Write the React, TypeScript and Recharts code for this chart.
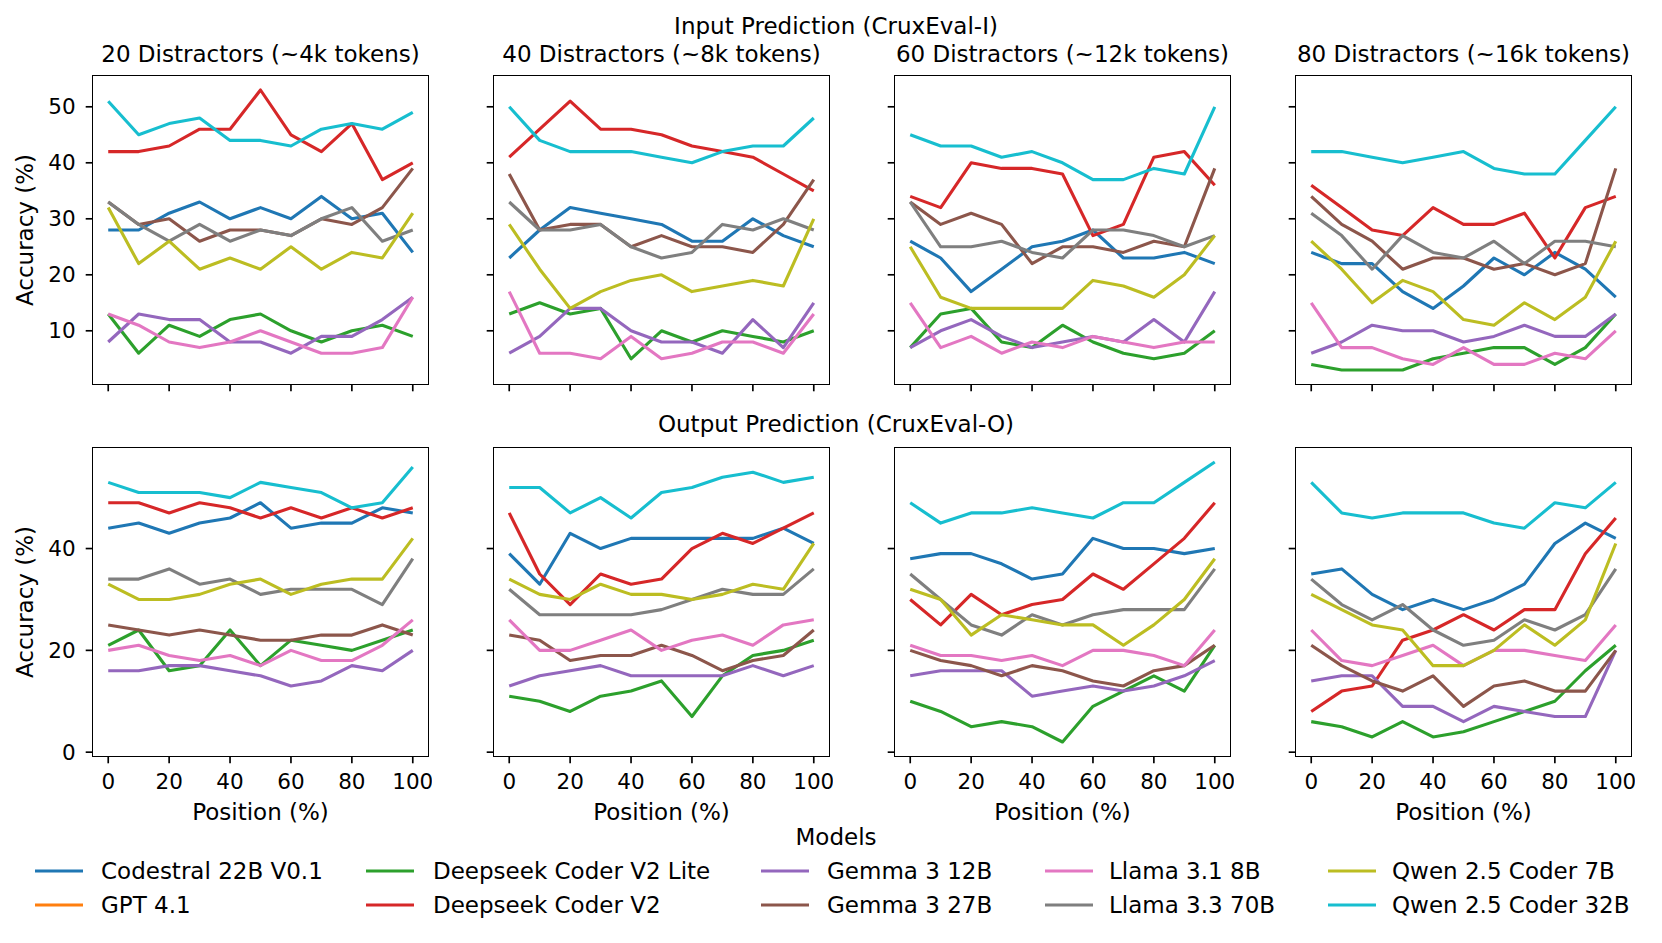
import React from 'react';
import { Line, LineChart, XAxis, YAxis } from 'recharts';

type ModelKey =
  | 'codestral'
  | 'gpt41'
  | 'dsLite'
  | 'dsV2'
  | 'gemma12'
  | 'gemma27'
  | 'llama8'
  | 'llama70'
  | 'qwen7'
  | 'qwen32';

type PanelData = Partial<Record<ModelKey, number[]>>;

const POSITIONS = [0, 10, 20, 30, 40, 50, 60, 70, 80, 90, 100];
const X_TICKS = [0, 20, 40, 60, 80, 100];
const INPUT_Y_TICKS = [10, 20, 30, 40, 50];
const OUTPUT_Y_TICKS = [0, 20, 40];

const MODELS: { key: ModelKey; name: string; color: string }[] = [
  { key: 'codestral', name: 'Codestral 22B V0.1', color: '#1f77b4' },
  { key: 'gpt41', name: 'GPT 4.1', color: '#ff7f0e' },
  { key: 'dsLite', name: 'Deepseek Coder V2 Lite', color: '#2ca02c' },
  { key: 'dsV2', name: 'Deepseek Coder V2', color: '#d62728' },
  { key: 'gemma12', name: 'Gemma 3 12B', color: '#9467bd' },
  { key: 'gemma27', name: 'Gemma 3 27B', color: '#8c564b' },
  { key: 'llama8', name: 'Llama 3.1 8B', color: '#e377c2' },
  { key: 'llama70', name: 'Llama 3.3 70B', color: '#7f7f7f' },
  { key: 'qwen7', name: 'Qwen 2.5 Coder 7B', color: '#bcbd22' },
  { key: 'qwen32', name: 'Qwen 2.5 Coder 32B', color: '#17becf' },
];

const PANEL_TITLES = [
  '20 Distractors (~4k tokens)',
  '40 Distractors (~8k tokens)',
  '60 Distractors (~12k tokens)',
  '80 Distractors (~16k tokens)',
];

// Input prediction (CruxEval-I)
const INPUT_20: PanelData = {
  codestral: [28, 28, 31, 33, 30, 32, 30, 34, 30, 31, 24],
  dsLite: [13, 6, 11, 9, 12, 13, 10, 8, 10, 11, 9],
  dsV2: [42, 42, 43, 46, 46, 53, 45, 42, 47, 37, 40],
  gemma12: [8, 13, 12, 12, 8, 8, 6, 9, 9, 12, 16],
  gemma27: [33, 29, 30, 26, 28, 28, 27, 30, 29, 32, 39],
  llama8: [13, 11, 8, 7, 8, 10, 8, 6, 6, 7, 16],
  llama70: [33, 29, 26, 29, 26, 28, 27, 30, 32, 26, 28],
  qwen7: [32, 22, 26, 21, 23, 21, 25, 21, 24, 23, 31],
  qwen32: [51, 45, 47, 48, 44, 44, 43, 46, 47, 46, 49],
};

const INPUT_40: PanelData = {
  codestral: [23, 28, 32, 31, 30, 29, 26, 26, 30, 27, 25],
  dsLite: [13, 15, 13, 14, 5, 10, 8, 10, 9, 8, 10],
  dsV2: [41, 46, 51, 46, 46, 45, 43, 42, 41, 38, 35],
  gemma12: [6, 9, 14, 14, 10, 8, 8, 6, 12, 7, 15],
  gemma27: [38, 28, 29, 29, 25, 27, 25, 25, 24, 29, 37],
  llama8: [17, 6, 6, 5, 9, 5, 6, 8, 8, 6, 13],
  llama70: [33, 28, 28, 29, 25, 23, 24, 29, 28, 30, 28],
  qwen7: [29, 21, 14, 17, 19, 20, 17, 18, 19, 18, 30],
  qwen32: [50, 44, 42, 42, 42, 41, 40, 42, 43, 43, 48],
};

const INPUT_60: PanelData = {
  codestral: [26, 23, 17, 21, 25, 26, 28, 23, 23, 24, 22],
  dsLite: [7, 13, 14, 8, 7, 11, 8, 6, 5, 6, 10],
  dsV2: [34, 32, 40, 39, 39, 38, 27, 29, 41, 42, 36],
  gemma12: [7, 10, 12, 9, 7, 8, 9, 8, 12, 8, 17],
  gemma27: [33, 29, 31, 29, 22, 25, 25, 24, 26, 25, 39],
  llama8: [15, 7, 9, 6, 8, 7, 9, 8, 7, 8, 8],
  llama70: [33, 25, 25, 26, 24, 23, 28, 28, 27, 25, 27],
  qwen7: [25, 16, 14, 14, 14, 14, 19, 18, 16, 20, 27],
  qwen32: [45, 43, 43, 41, 42, 40, 37, 37, 39, 38, 50],
};

const INPUT_80: PanelData = {
  codestral: [24, 22, 22, 17, 14, 18, 23, 20, 24, 21, 16],
  dsLite: [4, 3, 3, 3, 5, 6, 7, 7, 4, 7, 13],
  dsV2: [36, 32, 28, 27, 32, 29, 29, 31, 23, 32, 34],
  gemma12: [6, 8, 11, 10, 10, 8, 9, 11, 9, 9, 13],
  gemma27: [34, 29, 26, 21, 23, 23, 21, 22, 20, 22, 39],
  llama8: [15, 7, 7, 5, 4, 7, 4, 4, 6, 5, 10],
  llama70: [31, 27, 21, 27, 24, 23, 26, 22, 26, 26, 25],
  qwen7: [26, 21, 15, 19, 17, 12, 11, 15, 12, 16, 26],
  qwen32: [42, 42, 41, 40, 41, 42, 39, 38, 38, 44, 50],
};

// Output prediction (CruxEval-O)
const OUTPUT_20: PanelData = {
  codestral: [44, 45, 43, 45, 46, 49, 44, 45, 45, 48, 47],
  dsLite: [21, 24, 16, 17, 24, 17, 22, 21, 20, 22, 24],
  dsV2: [49, 49, 47, 49, 48, 46, 48, 46, 48, 46, 48],
  gemma12: [16, 16, 17, 17, 16, 15, 13, 14, 17, 16, 20],
  gemma27: [25, 24, 23, 24, 23, 22, 22, 23, 23, 25, 23],
  llama8: [20, 21, 19, 18, 19, 17, 20, 18, 18, 21, 26],
  llama70: [34, 34, 36, 33, 34, 31, 32, 32, 32, 29, 38],
  qwen7: [33, 30, 30, 31, 33, 34, 31, 33, 34, 34, 42],
  qwen32: [53, 51, 51, 51, 50, 53, 52, 51, 48, 49, 56],
};

const OUTPUT_40: PanelData = {
  codestral: [39, 33, 43, 40, 42, 42, 42, 42, 42, 44, 41],
  dsLite: [11, 10, 8, 11, 12, 14, 7, 15, 19, 20, 22],
  dsV2: [47, 35, 29, 35, 33, 34, 40, 43, 41, 44, 47],
  gemma12: [13, 15, 16, 17, 15, 15, 15, 15, 17, 15, 17],
  gemma27: [23, 22, 18, 19, 19, 21, 19, 16, 18, 19, 24],
  llama8: [26, 20, 20, 22, 24, 20, 22, 23, 21, 25, 26],
  llama70: [32, 27, 27, 27, 27, 28, 30, 32, 31, 31, 36],
  qwen7: [34, 31, 30, 33, 31, 31, 30, 31, 33, 32, 41],
  qwen32: [52, 52, 47, 50, 46, 51, 52, 54, 55, 53, 54],
};

const OUTPUT_60: PanelData = {
  codestral: [38, 39, 39, 37, 34, 35, 42, 40, 40, 39, 40],
  dsLite: [10, 8, 5, 6, 5, 2, 9, 12, 15, 12, 21],
  dsV2: [30, 25, 31, 27, 29, 30, 35, 32, 37, 42, 49],
  gemma12: [15, 16, 16, 16, 11, 12, 13, 12, 13, 15, 18],
  gemma27: [20, 18, 17, 15, 17, 16, 14, 13, 16, 17, 21],
  llama8: [21, 19, 19, 18, 19, 17, 20, 20, 19, 17, 24],
  llama70: [35, 30, 25, 23, 27, 25, 27, 28, 28, 28, 36],
  qwen7: [32, 30, 23, 27, 26, 25, 25, 21, 25, 30, 38],
  qwen32: [49, 45, 47, 47, 48, 47, 46, 49, 49, 53, 57],
};

const OUTPUT_80: PanelData = {
  codestral: [35, 36, 31, 28, 30, 28, 30, 33, 41, 45, 42],
  dsLite: [6, 5, 3, 6, 3, 4, 6, 8, 10, 16, 21],
  dsV2: [8, 12, 13, 22, 24, 27, 24, 28, 28, 39, 46],
  gemma12: [14, 15, 15, 9, 9, 6, 9, 8, 7, 7, 20],
  gemma27: [21, 17, 14, 12, 15, 9, 13, 14, 12, 12, 20],
  llama8: [24, 18, 17, 19, 21, 17, 20, 20, 19, 18, 25],
  llama70: [34, 29, 26, 29, 24, 21, 22, 26, 24, 27, 36],
  qwen7: [31, 28, 25, 24, 17, 17, 20, 25, 21, 26, 41],
  qwen32: [53, 47, 46, 47, 47, 47, 45, 44, 49, 48, 53],
};

const INPUT_PANELS = [INPUT_20, INPUT_40, INPUT_60, INPUT_80];
const OUTPUT_PANELS = [OUTPUT_20, OUTPUT_40, OUTPUT_60, OUTPUT_80];

// layout (pixels, page coordinates)
const FONT = "'DejaVu Sans', sans-serif";
const PANEL_LEFTS = [93, 494, 895, 1296];
const PANEL_W = 335;
const PANEL_H = 308;
const TOP_ROW_Y = 76;
const BOTTOM_ROW_Y = 448;
const Y_AXIS_W = 80;
const X_AXIS_H = 44;
const LINE_W = 3.1;
const SPINE_W = 1.67;

const LEGEND_COLS = [
  { line: 35, text: 101 },
  { line: 366, text: 433 },
  { line: 761, text: 827 },
  { line: 1045, text: 1109 },
  { line: 1328, text: 1392 },
];

function buildRows(panel: PanelData) {
  return POSITIONS.map((pos, i) => {
    const row: Record<string, number> = { pos };
    MODELS.forEach((m) => {
      const values = panel[m.key];
      if (values) row[m.key] = values[i];
    });
    return row;
  });
}

type PanelProps = {
  left: number;
  top: number;
  panel: PanelData;
  yDomain: [number, number];
  yTicks: number[];
  showYLabels: boolean;
  showXLabels: boolean;
};

function Panel({ left, top, panel, yDomain, yTicks, showYLabels, showXLabels }: PanelProps) {
  const rows = buildRows(panel);
  const tickStyle = { fontSize: 21.5, fill: '#000', fontFamily: FONT };
  const tickLine = { stroke: '#000', strokeWidth: SPINE_W };

  return (
    <>
      <div style={{ position: 'absolute', left: left - Y_AXIS_W, top }}>
        <LineChart
          width={Y_AXIS_W + PANEL_W + 4}
          height={PANEL_H + X_AXIS_H}
          data={rows}
          margin={{ top: 0, right: 4, bottom: 0, left: 0 }}
        >
          <XAxis
            dataKey="pos"
            type="number"
            domain={[-5, 105]}
            ticks={X_TICKS}
            allowDataOverflow
            axisLine={false}
            tickLine={tickLine}
            tickSize={7.3}
            tickMargin={10}
            height={X_AXIS_H}
            tick={tickStyle}
            tickFormatter={(v) => (showXLabels ? String(v) : '')}
          />
          <YAxis
            type="number"
            domain={yDomain}
            ticks={yTicks}
            allowDataOverflow
            axisLine={false}
            tickLine={tickLine}
            tickSize={7.3}
            tickMargin={10}
            width={Y_AXIS_W}
            tick={tickStyle}
            tickFormatter={(v) => (showYLabels ? String(v) : '')}
          />
          {MODELS.filter((m) => panel[m.key]).map((m) => (
            <Line
              key={m.key}
              dataKey={m.key}
              type="linear"
              stroke={m.color}
              strokeWidth={LINE_W}
              strokeLinejoin="round"
              dot={false}
              activeDot={false}
              isAnimationActive={false}
            />
          ))}
        </LineChart>
      </div>
      <div
        style={{
          position: 'absolute',
          left: left - SPINE_W / 2,
          top: top - SPINE_W / 2,
          width: PANEL_W + SPINE_W,
          height: PANEL_H + SPINE_W,
          border: `${SPINE_W}px solid #000`,
          boxSizing: 'border-box',
          pointerEvents: 'none',
        }}
      />
    </>
  );
}

function Labels() {
  const t = { fontFamily: FONT, fontSize: 23, fill: '#000' };
  const centers = PANEL_LEFTS.map((l) => l + PANEL_W / 2);
  return (
    <svg
      width={1662}
      height={943}
      style={{ position: 'absolute', left: 0, top: 0, pointerEvents: 'none' }}
    >
      <text x={836} y={34} textAnchor="middle" {...t}>
        Input Prediction (CruxEval-I)
      </text>
      <text x={836} y={432} textAnchor="middle" {...t}>
        Output Prediction (CruxEval-O)
      </text>
      {PANEL_TITLES.map((title, i) => (
        <text key={title} x={centers[i]} y={62} textAnchor="middle" {...t}>
          {title}
        </text>
      ))}
      {[TOP_ROW_Y, BOTTOM_ROW_Y].map((y) => (
        <text
          key={y}
          transform={`translate(33, ${y + PANEL_H / 2}) rotate(-90)`}
          textAnchor="middle"
          {...t}
        >
          Accuracy (%)
        </text>
      ))}
      {centers.map((c) => (
        <text key={c} x={c} y={820} textAnchor="middle" {...t}>
          Position (%)
        </text>
      ))}
      <text x={836} y={845} textAnchor="middle" {...t}>
        Models
      </text>
      {MODELS.map((m, i) => {
        const col = LEGEND_COLS[Math.floor(i / 2)];
        const lineY = i % 2 === 0 ? 871 : 905;
        return (
          <g key={m.key}>
            <line
              x1={col.line}
              x2={col.line + 48}
              y1={lineY}
              y2={lineY}
              stroke={m.color}
              strokeWidth={LINE_W}
            />
            <text x={col.text} y={lineY + 8} {...t}>
              {m.name}
            </text>
          </g>
        );
      })}
    </svg>
  );
}

export default function App() {
  return (
    <div
      style={{
        position: 'absolute',
        left: 0,
        top: 0,
        width: 1662,
        height: 943,
        background: '#fff',
        overflow: 'hidden',
      }}
    >
      {INPUT_PANELS.map((panel, i) => (
        <Panel
          key={`in-${i}`}
          left={PANEL_LEFTS[i]}
          top={TOP_ROW_Y}
          panel={panel}
          yDomain={[0.5, 55.5]}
          yTicks={INPUT_Y_TICKS}
          showYLabels={i === 0}
          showXLabels={false}
        />
      ))}
      {OUTPUT_PANELS.map((panel, i) => (
        <Panel
          key={`out-${i}`}
          left={PANEL_LEFTS[i]}
          top={BOTTOM_ROW_Y}
          panel={panel}
          yDomain={[-0.75, 59.75]}
          yTicks={OUTPUT_Y_TICKS}
          showYLabels={i === 0}
          showXLabels
        />
      ))}
      <Labels />
    </div>
  );
}
